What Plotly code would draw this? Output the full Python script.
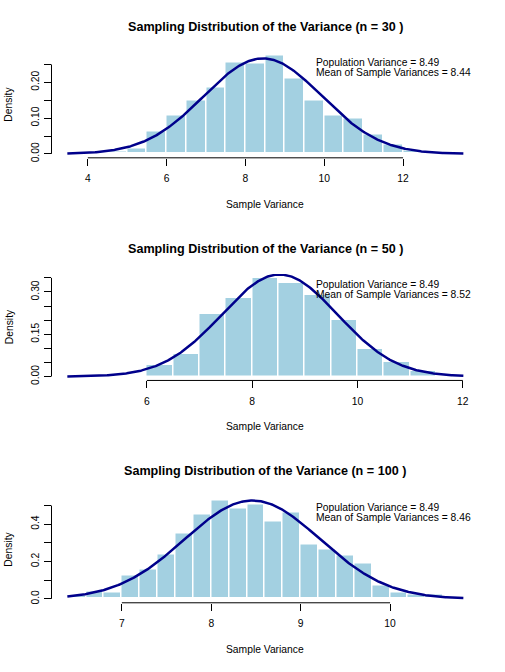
import numpy as np
import plotly.graph_objects as go

# ---------------- data ----------------
sample_sizes = [30, 50, 100]
pop_variance = 8.49
mean_sample_var = [8.44, 8.52, 8.46]

# histogram bins (left edges) and densities
bin_width_1 = 0.5
bin_left_1 = [4.5, 5.0, 5.5, 6.0, 6.5, 7.0, 7.5, 8.0, 8.5, 9.0, 9.5, 10.0, 10.5, 11.0, 11.5, 12.0]
density_1 = [0.006, 0.014, 0.061, 0.108, 0.150, 0.186, 0.254, 0.252, 0.275, 0.211, 0.148,
             0.106, 0.100, 0.053, 0.025, 0.009]

bin_width_2 = 0.5
bin_left_2 = [6.0, 6.5, 7.0, 7.5, 8.0, 8.5, 9.0, 9.5, 10.0, 10.5, 11.0]
density_2 = [0.042, 0.081, 0.223, 0.280, 0.350, 0.331, 0.288, 0.201, 0.099, 0.051, 0.020]

bin_width_3 = 0.2
bin_left_3 = [6.4, 6.6, 6.8, 7.0, 7.2, 7.4, 7.6, 7.8, 8.0, 8.2, 8.4, 8.6, 8.8, 9.0, 9.2,
              9.4, 9.6, 9.8, 10.0, 10.2, 10.4]
density_3 = [0.015, 0.039, 0.034, 0.124, 0.158, 0.238, 0.351, 0.450, 0.527, 0.482, 0.507,
             0.413, 0.463, 0.293, 0.264, 0.232, 0.188, 0.070, 0.036, 0.025, 0.025]

# normal density overlay parameters (mean, sd) and x-limits of each panel
curve_sd = [1.494, 1.102, 0.757]
xlims = [(3.48, 13.53), (4.49, 12.01), (6.39, 10.82)]

# axis ticks
x_ticks = [[4, 6, 8, 10, 12], [6, 8, 10, 12], [7, 8, 9, 10]]
y_ticks = [[0, 0.05, 0.10, 0.15, 0.20, 0.25],
           [0, 0.05, 0.10, 0.15, 0.20, 0.25, 0.30, 0.35],
           [0, 0.1, 0.2, 0.3, 0.4, 0.5]]
y_ticktext = [["0.00", "", "0.10", "", "0.20", ""],
              ["0.00", "", "", "0.15", "", "", "0.30", ""],
              ["0.0", "", "0.2", "", "0.4", ""]]

bins_left = [bin_left_1, bin_left_2, bin_left_3]
bins_w = [bin_width_1, bin_width_2, bin_width_3]
densities = [density_1, density_2, density_3]

# ---------------- layout geometry ----------------
W, H = 505, 672
FONT = "Liberation Sans, Arial, Helvetica, sans-serif"
BASE = 10.3
BAR_COLOR = "#A3D0E1"
x_dom = [51.5 / W, 479.2 / W]
# plot-region pixel tops/bottoms
regions = [(52.0, 159.0), (276.0, 383.3), (500.3, 607.3)]

fig = go.Figure()
layout = dict(
    width=W, height=H,
    margin=dict(l=0, r=0, t=0, b=0),
    paper_bgcolor="white", plot_bgcolor="white",
    showlegend=False, bargap=0,
    font=dict(family=FONT, size=BASE, color="black"),
)
annotations = []
shapes = []

for i in range(3):
    xs = "" if i == 0 else str(i + 1)
    xa, ya = "x" + xs, "y" + xs
    lefts = np.array(bins_left[i])
    w = bins_w[i]
    dens = np.array(densities[i])
    fig.add_trace(go.Bar(
        x=lefts + w / 2, y=dens, width=w,
        marker=dict(color=BAR_COLOR, line=dict(color="white", width=1.5)),
        xaxis=xa, yaxis=ya, hoverinfo="skip"))
    lo, hi = xlims[i]
    xc = np.linspace(lo, hi, 400)
    mu, sd = mean_sample_var[i], curve_sd[i]
    yc = np.exp(-0.5 * ((xc - mu) / sd) ** 2) / (sd * np.sqrt(2 * np.pi))
    fig.add_trace(go.Scatter(x=xc, y=yc, mode="lines",
                             line=dict(color="darkblue", width=2.5),
                             xaxis=xa, yaxis=ya, hoverinfo="skip"))

    ext = 0.04 * (hi - lo)
    ymax = float(dens.max())
    top_px, bot_px = regions[i]
    y_dom = [(H - bot_px) / H, (H - top_px) / H]

    layout["xaxis" + xs] = dict(
        domain=x_dom, anchor=ya, range=[lo - ext, hi + ext],
        showgrid=False, zeroline=False, showline=False,
        tickmode="array", tickvals=x_ticks[i],
        ticks="outside", ticklen=7, tickwidth=1, tickcolor="black",
        ticklabelstandoff=4,
        tickfont=dict(size=BASE, family=FONT),
    )
    layout["yaxis" + xs] = dict(
        domain=y_dom, anchor=xa, range=[-0.04 * ymax, 1.04 * ymax],
        showgrid=False, zeroline=False, showline=False,
        tickmode="array", tickvals=y_ticks[i], ticktext=y_ticktext[i],
        ticks="outside", ticklen=7, tickwidth=1, tickcolor="black",
        tickangle=-90, tickfont=dict(size=BASE, family=FONT),
    )
    # R-style axis lines from first to last tick
    shapes.append(dict(type="line", xref=xa, yref=ya + " domain",
                       x0=x_ticks[i][0], x1=x_ticks[i][-1], y0=0, y1=0,
                       line=dict(color="black", width=1)))
    shapes.append(dict(type="line", xref=xa + " domain", yref=ya,
                       x0=0, x1=0, y0=y_ticks[i][0], y1=y_ticks[i][-1],
                       line=dict(color="black", width=1)))

    # title
    annotations.append(dict(
        text="<b>Sampling Distribution of the Variance (n = %d )</b>" % sample_sizes[i],
        xref="paper", yref="paper", x=265.4 / W, y=(H - (27 + 224 * i)) / H,
        xanchor="center", yanchor="middle", showarrow=False,
        font=dict(size=12.6, family=FONT, color="black")))
    # x label
    annotations.append(dict(
        text="Sample Variance", xref="paper", yref="paper",
        x=265.4 / W, y=(H - (206 + 224 * i)) / H,
        xanchor="center", yanchor="middle", showarrow=False,
        font=dict(size=BASE, family=FONT, color="black")))
    # y label
    annotations.append(dict(
        text="Density", xref="paper", yref="paper",
        x=9 / W, y=(H - (top_px + bot_px) / 2) / H, textangle=-90,
        xanchor="center", yanchor="middle", showarrow=False,
        font=dict(size=BASE, family=FONT, color="black")))
    # legend-like text
    annotations.append(dict(
        text="Population Variance = %.2f" % pop_variance,
        xref=xa + " domain", yref=ya + " domain", x=0.614, y=0.9,
        xanchor="left", yanchor="middle", showarrow=False,
        font=dict(size=BASE, family=FONT, color="black")))
    annotations.append(dict(
        text="Mean of Sample Variances = %.2f" % mean_sample_var[i],
        xref=xa + " domain", yref=ya + " domain", x=0.614, y=0.803,
        xanchor="left", yanchor="middle", showarrow=False,
        font=dict(size=BASE, family=FONT, color="black")))

layout["annotations"] = annotations
layout["shapes"] = shapes
fig.update_layout(**layout)
page_css = (
    "var de=document.documentElement,b=document.body;"
    "de.style.margin='0';de.style.padding='0';de.style.overflow='hidden';"
    "b.style.margin='0';b.style.padding='0';b.style.overflow='hidden';"
    "b.style.height='672px';"
)
fig.write_html("out.html", config={"displayModeBar": False}, post_script=page_css)
